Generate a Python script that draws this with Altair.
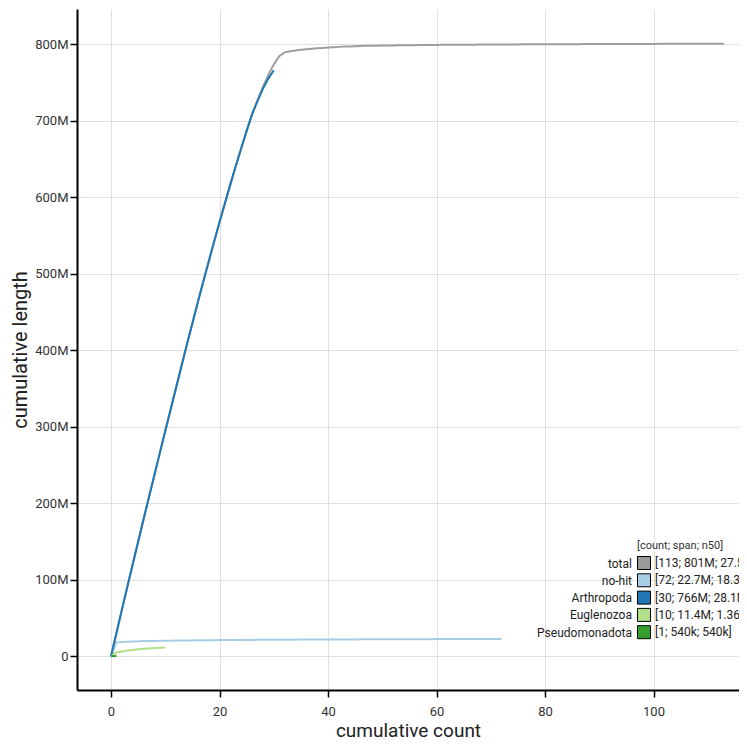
import altair as alt
import pandas as pd

# ---- data (scaffold lengths in Mb, per category) ----
categories = ["total", "no-hit", "Arthropoda", "Euglenozoa", "Pseudomonadota"]
colors = ["#999999", "#a6cee3", "#1f78b4", "#b2df8a", "#33a02c"]
stats = ["[113; 801M; 27.5M]", "[72; 22.7M; 18.3M]", "[30; 766M; 28.1M]",
         "[10; 11.4M; 1.36M]", "[1; 540k; 540k]"]
legend_title = "[count; span; n50]"

arthropoda = [30.5, 30.2, 29.9, 29.7, 29.5, 29.3, 29.1, 28.9, 28.8, 28.6,
              28.5, 28.4, 28.3, 28.1, 27.6, 27.2, 26.8, 26.4, 26.0, 25.5,
              25.0, 24.5, 24.0, 23.3, 22.6, 21.6, 17.5, 15.8, 13.4, 11.0]
nohit = [18.3, 0.55, 0.35, 0.28, 0.22, 0.18, 0.16, 0.14, 0.12, 0.10,
         0.095, 0.09, 0.085, 0.082, 0.08, 0.078, 0.076, 0.074, 0.072, 0.068,
         0.055, 0.053, 0.051, 0.049, 0.047, 0.045, 0.043, 0.042, 0.041, 0.040,
         0.039, 0.038, 0.037, 0.036, 0.035, 0.034, 0.033, 0.032, 0.031, 0.030,
         0.029, 0.028, 0.028, 0.027, 0.027, 0.026, 0.026, 0.025, 0.025, 0.024,
         0.024, 0.023, 0.023, 0.022, 0.022, 0.021, 0.021, 0.020, 0.020, 0.019,
         0.019, 0.018, 0.018, 0.018, 0.017, 0.017, 0.017, 0.016, 0.016, 0.016,
         0.015, 0.015]
euglenozoa = [5.0, 1.36, 1.1, 0.9, 0.75, 0.65, 0.55, 0.45, 0.35, 0.29]
pseudomonadota = [0.54]

per_cat = {"no-hit": nohit, "Arthropoda": arthropoda,
           "Euglenozoa": euglenozoa, "Pseudomonadota": pseudomonadota}
per_cat_total = sorted([v for lst in per_cat.values() for v in lst], reverse=True)
stat_of = dict(zip(categories, stats))

rows = []
def add_series(name, sizes):
    cum = 0.0
    rows.append({"cat": name, "count": 0, "length": 0.0})
    for i, s in enumerate(sorted(sizes, reverse=True), start=1):
        cum += s
        rows.append({"cat": name, "count": i, "length": cum})

add_series("total", per_cat_total)
for k, v in per_cat.items():
    add_series(k, v)
df = pd.DataFrame(rows)
df["stat"] = df["cat"].map(stat_of)

font = "Roboto"
x_enc = alt.X("count:Q", title="cumulative count",
              scale=alt.Scale(domain=[-6.27, 115.76], nice=False, zero=False),
              axis=alt.Axis(values=[0, 20, 40, 60, 80, 100], labelPadding=8,
                            titlePadding=3, titleFontSize=19))
y_enc = alt.Y("length:Q", title="cumulative length",
              scale=alt.Scale(domain=[-44, 846], nice=False, zero=False),
              axis=alt.Axis(values=[0, 100, 200, 300, 400, 500, 600, 700, 800],
                            labelPadding=2, titlePadding=4,
                            labelExpr="datum.value == 0 ? '0' : datum.value + 'M'"))

color_enc = alt.Color("cat:N", scale=alt.Scale(domain=categories, range=colors),
                      legend=None)
# swatches + stats (right of the swatches)
fill_enc = alt.Fill(
    "stat:N",
    scale=alt.Scale(domain=stats, range=colors),
    legend=alt.Legend(
        title="\u00a0" * 7 + legend_title, orient="none", legendX=560, legendY=531,
        padding=0, titleFontSize=11, titleFontWeight="normal", titleColor="#333",
        titleFont=font, titlePadding=5, titleAnchor="start",
        labelFont=font, labelFontSize=12, labelColor="#222", labelOffset=4,
        labelLimit=300,
        symbolType="square", symbolSize=169, rowPadding=-0.7,
        symbolStrokeColor="black", symbolStrokeWidth=1, symbolOpacity=1,
    ),
)
# category names (left of the swatches)
shape_enc = alt.Shape(
    "cat:N",
    scale=alt.Scale(domain=categories),
    legend=alt.Legend(
        title=None, orient="none",
        legendX=536, legendY=547, padding=0,
        labelFont=font, labelFontSize=12, labelColor="#222", labelOffset=4,
        labelAlign="right", labelLimit=300,
        symbolType="square", symbolSize=169, symbolOpacity=0, rowPadding=3.3,
    ),
)

base = alt.Chart(df)
total_layer = base.transform_filter("datum.cat == 'total'").mark_line(
    strokeWidth=2, opacity=0.95).encode(x=x_enc, y=y_enc, color=color_enc,
                                        order="count:Q")
other_layer = base.transform_filter("datum.cat != 'total'").mark_line(
    strokeWidth=2).encode(x=x_enc, y=y_enc, color=color_enc, order="count:Q")
legend_layer = base.transform_filter("datum.count == 0").mark_point(
    filled=True, size=0, opacity=1).encode(x=x_enc, y=y_enc, fill=fill_enc,
                                           shape=shape_enc)

chart = alt.layer(total_layer, other_layer, legend_layer).resolve_legend(
    fill="independent", shape="independent"
).properties(
    width=662, height=681,
    autosize=alt.AutoSizeParams(type="none"),
    padding={"left": 69, "top": 1, "right": 0, "bottom": 50},
).configure_view(stroke=None).configure_axis(
    labelFont=font, labelFontSize=13, labelColor="#333",
    titleFont=font, titleFontSize=20, titleFontWeight="normal", titleColor="#222",
    domainColor="black", domainWidth=2, tickColor="black", tickWidth=1.5,
    tickSize=7, gridColor="#e0e0e0", gridWidth=1,
)

chart.save("out.html", embed_options={"renderer": "svg", "actions": False})
